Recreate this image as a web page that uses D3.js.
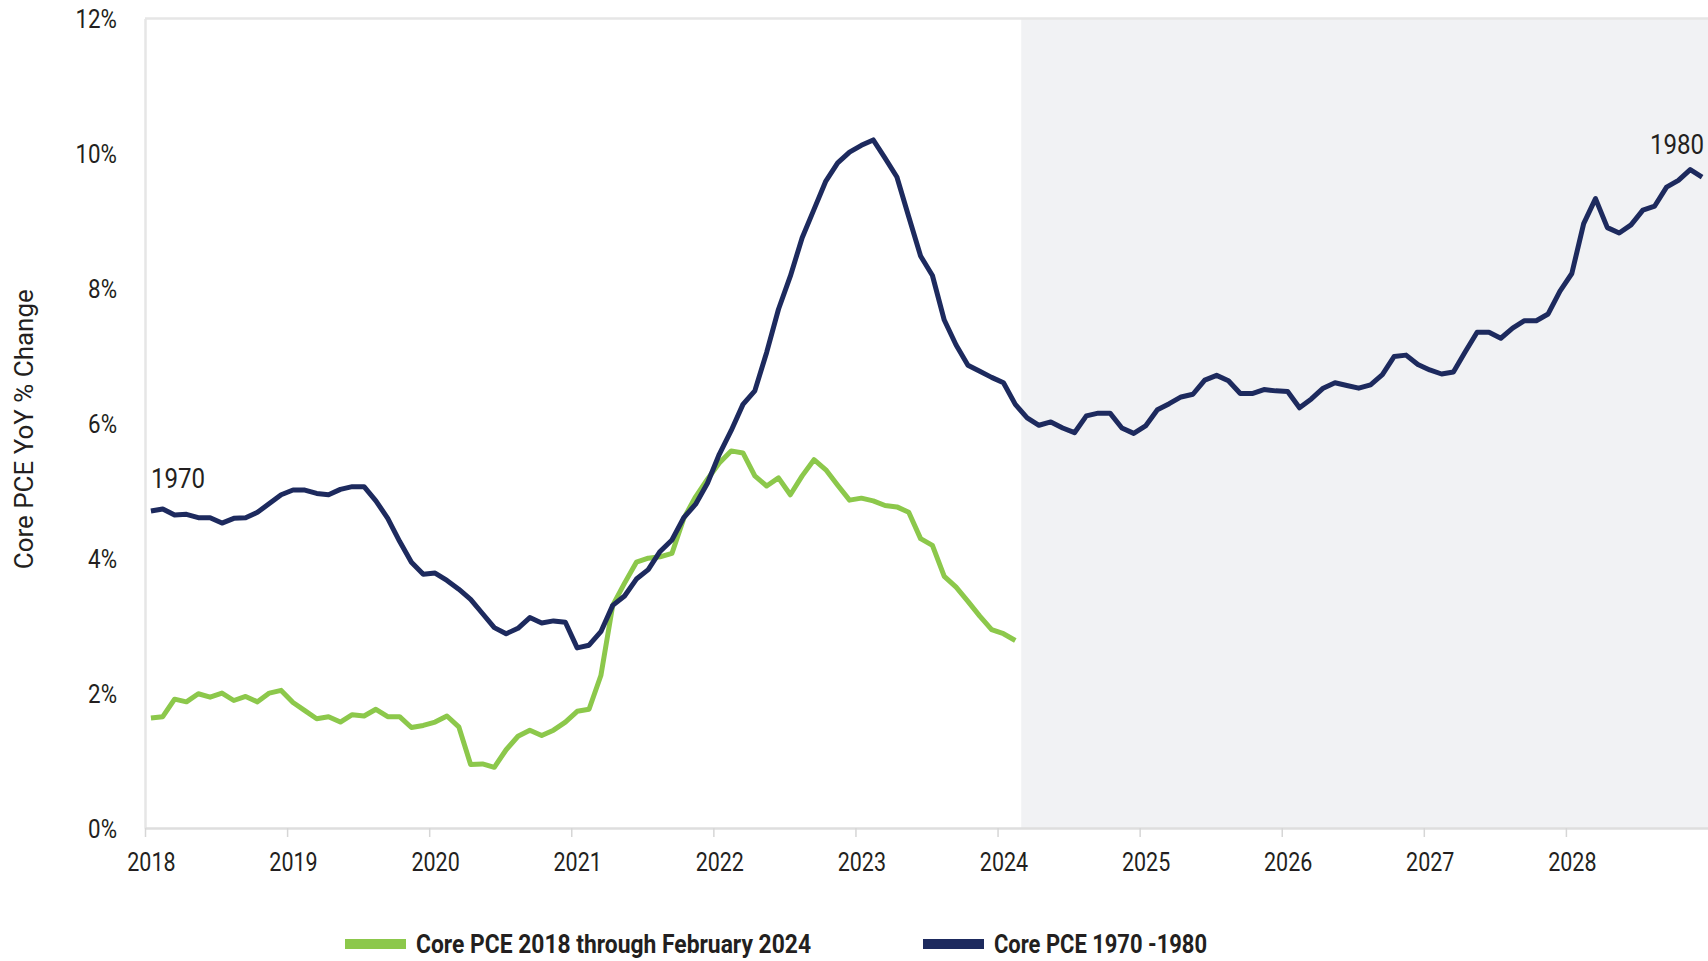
<!DOCTYPE html>
<html><head><meta charset="utf-8">
<script src="https://cdn.jsdelivr.net/npm/d3@7"></script>
<style>
html,body{margin:0;padding:0;background:#fff;}
svg{display:block;font-family:Roboto,"Noto Sans",sans-serif;}
</style></head><body>
<svg id="chart" width="1708" height="961"></svg>
<script>
// ---- data ----
const yearLabels = ["2018","2019","2020","2021","2022","2023","2024","2025","2026","2027","2028"];
const yTickValues = [0,2,4,6,8,10,12];
const seriesNames = ["Core PCE 2018 through February 2024","Core PCE 1970 -1980"];
const startLabel = "1970";
const endLabel = "1980";
const yTitle = "Core PCE YoY % Change";

// Core PCE YoY, monthly Jan 2018 – Feb 2024
const coreRecent = [
  1.63,1.65,1.91,1.87,1.99,1.94,2.00,1.89,1.95,1.87,2.00,2.04,
  1.86,1.74,1.62,1.65,1.57,1.68,1.66,1.76,1.65,1.65,1.49,1.52,
  1.57,1.66,1.50,0.94,0.95,0.90,1.16,1.36,1.45,1.37,1.45,1.57,
  1.73,1.76,2.26,3.30,3.63,3.94,4.00,4.02,4.07,4.59,4.91,5.17,
  5.41,5.59,5.56,5.22,5.07,5.19,4.94,5.22,5.46,5.31,5.08,4.86,
  4.89,4.85,4.78,4.76,4.68,4.29,4.19,3.73,3.57,3.36,3.14,2.94,
  2.88,2.78
];
// Core PCE YoY, monthly Jan 1970 – Dec 1980
const core1970s = [
  4.70,4.73,4.64,4.65,4.60,4.60,4.52,4.59,4.60,4.68,4.81,4.94,
  5.01,5.01,4.96,4.94,5.02,5.06,5.06,4.85,4.59,4.25,3.94,3.76,
  3.78,3.67,3.54,3.39,3.18,2.97,2.88,2.96,3.12,3.04,3.07,3.05,
  2.67,2.71,2.91,3.30,3.44,3.69,3.83,4.10,4.27,4.60,4.80,5.11,
  5.54,5.89,6.28,6.48,7.05,7.69,8.18,8.75,9.17,9.59,9.86,10.02,
  10.12,10.20,9.93,9.65,9.06,8.48,8.19,7.53,7.16,6.86,6.77,6.68,
  6.60,6.28,6.08,5.97,6.02,5.93,5.86,6.11,6.15,6.15,5.93,5.85,
  5.96,6.20,6.29,6.39,6.43,6.64,6.71,6.63,6.44,6.44,6.50,6.48,
  6.47,6.23,6.36,6.52,6.60,6.56,6.52,6.57,6.72,6.99,7.01,6.87,
  6.79,6.73,6.76,7.06,7.35,7.35,7.26,7.41,7.52,7.52,7.62,7.96,
  8.22,8.96,9.33,8.90,8.82,8.94,9.16,9.22,9.50,9.60,9.76,9.65
];

// ---- layout ----
const W = 1708, H = 961;
const textColor = "#231f20";
const greenColor = "#8cc84b";
const navyColor = "#1d2a5e";
const condense = 0.86;

const svg = d3.select("#chart");
const x = d3.scaleLinear().domain([0, core1970s.length]).range([145, 1708]);
const y = d3.scaleLinear().domain([0, 12]).range([828, 18.5]);

// shaded area after the last recent observation
svg.append("rect")
  .attr("x", x(coreRecent.length)).attr("y", y(12))
  .attr("width", x(core1970s.length) - x(coreRecent.length))
  .attr("height", y(0) - y(12))
  .attr("fill", "#f1f2f4");

// top border
svg.append("line")
  .attr("x1", x(0)).attr("x2", x(core1970s.length))
  .attr("y1", y(12)).attr("y2", y(12))
  .attr("stroke", "#e6e6e6").attr("stroke-width", 2.5);

// y axis
const gy = svg.append("g").attr("transform", `translate(${x(0)},0)`)
  .call(d3.axisLeft(y).tickValues(yTickValues).tickFormat(d => d + "%")
    .tickSize(0).tickSizeOuter(0).tickPadding(0));
gy.attr("font-size", null).attr("font-family", null);
gy.select(".domain").attr("stroke", "#e6e6e6").attr("stroke-width", 2.5);
gy.selectAll(".tick text")
  .attr("x", null).attr("dy", "0.36em")
  .attr("font-size", 26).attr("fill", textColor)
  .attr("transform", `translate(-28,0) scale(${condense},1)`);

// x axis
const gx = svg.append("g").attr("transform", `translate(0,${y(0)})`)
  .call(d3.axisBottom(x).tickValues(yearLabels.map((d, i) => i * 12))
    .tickFormat((d, i) => yearLabels[i]).tickSize(9).tickSizeOuter(0));
gx.attr("font-size", null).attr("font-family", null);
gx.select(".domain").attr("stroke", "#dedede").attr("stroke-width", 2.5);
gx.selectAll(".tick line").attr("stroke", "#d6d6d6").attr("stroke-width", 1.5);
gx.selectAll(".tick text")
  .attr("y", null).attr("dy", null)
  .attr("font-size", 25).attr("fill", textColor)
  .attr("transform", `translate(${x(0.5) - x(0)},43) scale(${condense},1)`);

// lines
const line = d3.line().x((d, i) => x(i + 0.5)).y(d => y(d));
svg.append("path").datum(coreRecent)
  .attr("d", line).attr("fill", "none")
  .attr("stroke", greenColor).attr("stroke-width", 5)
  .attr("stroke-linejoin", "round");
svg.append("path").datum(core1970s)
  .attr("d", line).attr("fill", "none")
  .attr("stroke", navyColor).attr("stroke-width", 5)
  .attr("stroke-linejoin", "round");

// start / end labels
svg.append("text")
  .attr("transform", `translate(${x(0.5)},${y(core1970s[0]) - 23}) scale(${condense},1)`)
  .attr("font-size", 28).attr("fill", textColor).text(startLabel);
const last = core1970s.length - 1;
svg.append("text")
  .attr("transform", `translate(${x(last + 0.5) + 2},${y(core1970s[last]) - 23}) scale(${condense},1)`)
  .attr("text-anchor", "end")
  .attr("font-size", 28).attr("fill", textColor).text(endLabel);

// y title
svg.append("text")
  .attr("transform", `translate(33,${(y(0) + y(12)) / 2 + 6}) rotate(-90)`)
  .attr("text-anchor", "middle")
  .attr("font-size", 26).attr("fill", textColor)
  .attr("textLength", 280).attr("lengthAdjust", "spacingAndGlyphs")
  .text(yTitle);

// legend
const legend = [
  {name: seriesNames[0], color: greenColor, sx: 345, tx: 416, tw: 395},
  {name: seriesNames[1], color: navyColor, sx: 923, tx: 994, tw: 213}
];
const lg = svg.append("g");
lg.selectAll("rect").data(legend).join("rect")
  .attr("x", d => d.sx).attr("y", 939).attr("width", 61).attr("height", 10)
  .attr("fill", d => d.color);
lg.selectAll("text").data(legend).join("text")
  .attr("x", d => d.tx).attr("y", 953)
  .attr("font-size", 25).attr("font-weight", "bold").attr("fill", textColor)
  .attr("textLength", d => d.tw).attr("lengthAdjust", "spacingAndGlyphs")
  .text(d => d.name);
</script>
</body></html>
